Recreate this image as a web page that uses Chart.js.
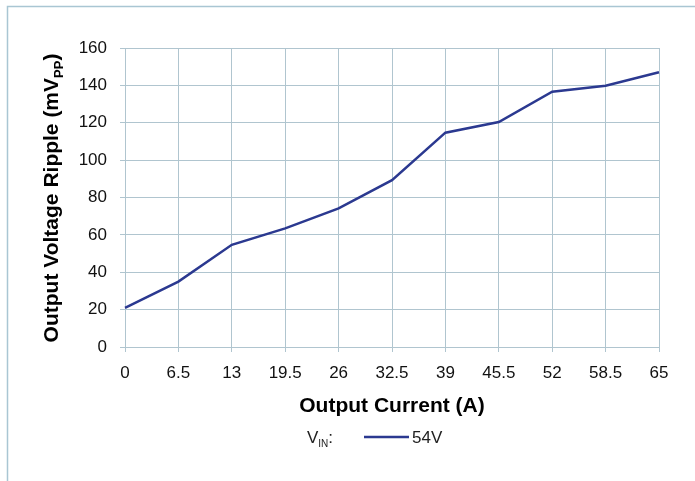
<!DOCTYPE html>
<html>
<head>
<meta charset="utf-8">
<script src="https://cdn.jsdelivr.net/npm/chart.js@4.4.1/dist/chart.umd.min.js"></script>
<style>
    html, body { margin: 0; padding: 0; background: #ffffff; }
    #wrap { width: 695px; height: 481px; position: relative; }
</style>
</head>
<body>
<div id="wrap"><canvas id="rippleChart" width="695" height="481"></canvas></div>
<script>
// output current steps (A) and measured ripple (mVpp) at VIN = 54V
const currentLabels = ['0', '6.5', '13', '19.5', '26', '32.5', '39', '45.5', '52', '58.5', '65'];
const ripple54V = [21, 35, 54.7, 63.5, 74.2, 89.3, 114.7, 120.4, 136.6, 139.8, 147];
const yTicks = [0, 20, 40, 60, 80, 100, 120, 140, 160];

const gridColor = '#b0c5cf';
const lineColor = '#2b3990';
const fontFamily = '"Liberation Sans", Arial, sans-serif';

// draws text followed by a smaller subscript, returns the end x
function textWithSub(ctx, main, sub, tail, x, y, size, bold) {
    const w = bold ? 'bold ' : '';
    ctx.font = w + size + 'px ' + fontFamily;
    ctx.fillText(main, x, y);
    x += ctx.measureText(main).width;
    const subSize = Math.round(size * 0.6);
    ctx.font = w + subSize + 'px ' + fontFamily;
    ctx.fillText(sub, x, y + size * 0.25);
    x += ctx.measureText(sub).width;
    if (tail) {
        ctx.font = w + size + 'px ' + fontFamily;
        ctx.fillText(tail, x, y);
        x += ctx.measureText(tail).width;
    }
    return x;
}

function measureWithSub(ctx, main, sub, tail, size, bold) {
    const w = bold ? 'bold ' : '';
    ctx.font = w + size + 'px ' + fontFamily;
    let total = ctx.measureText(main).width + ctx.measureText(tail).width;
    ctx.font = w + Math.round(size * 0.6) + 'px ' + fontFamily;
    total += ctx.measureText(sub).width;
    return total;
}

const decorations = {
    id: 'decorations',
    afterDraw(chart) {
        const ctx = chart.ctx;
        const area = chart.chartArea;
        ctx.save();

        // outer frame
        ctx.strokeStyle = '#a9c6d3';
        ctx.lineWidth = 1.5;
        ctx.beginPath();
        ctx.moveTo(7.5, 481);
        ctx.lineTo(7.5, 6.5);
        ctx.lineTo(695, 6.5);
        ctx.stroke();

        ctx.fillStyle = '#000000';
        ctx.textBaseline = 'alphabetic';
        ctx.textAlign = 'left';

        // x axis title
        ctx.font = 'bold 21px ' + fontFamily;
        const xt = 'Output Current (A)';
        const xw = ctx.measureText(xt).width;
        ctx.fillText(xt, (area.left + area.right) / 2 - xw / 2, 412);

        // y axis title, rotated
        ctx.save();
        ctx.translate(58, 198);
        ctx.rotate(-Math.PI / 2);
        const yw = measureWithSub(ctx, 'Output Voltage Ripple (mV', 'PP', ')', 21, true);
        textWithSub(ctx, 'Output Voltage Ripple (mV', 'PP', ')', -yw / 2, 0, 21, true);
        ctx.restore();

        // legend
        ctx.fillStyle = '#222222';
        textWithSub(ctx, 'V', 'IN', ':', 307, 443, 17, false);
        ctx.strokeStyle = lineColor;
        ctx.lineWidth = 2.5;
        ctx.beginPath();
        ctx.moveTo(364, 437);
        ctx.lineTo(409, 437);
        ctx.stroke();
        ctx.font = '17px ' + fontFamily;
        ctx.fillText('54V', 412, 443);

        ctx.restore();
    }
};

new Chart(document.getElementById('rippleChart').getContext('2d'), {
    type: 'line',
    data: {
        labels: currentLabels,
        datasets: [{
            label: '54V',
            data: ripple54V,
            borderColor: lineColor,
            borderWidth: 2.5,
            pointRadius: 0,
            tension: 0,
            fill: false
        }]
    },
    options: {
        responsive: false,
        animation: false,
        layout: {
            padding: { left: 0, top: 48, right: 36, bottom: 0 }
        },
        plugins: {
            legend: { display: false },
            tooltip: { enabled: false }
        },
        scales: {
            x: {
                type: 'category',
                offset: false,
                grid: { color: gridColor, lineWidth: 1, tickLength: 5 },
                border: { color: gridColor },
                ticks: {
                    color: '#111111',
                    font: { family: fontFamily, size: 17 },
                    padding: 11,
                    maxRotation: 0,
                    autoSkip: false
                },
                afterFit(scale) { scale.height = 134; }
            },
            y: {
                min: 0,
                max: 160,
                grid: { color: gridColor, lineWidth: 1, tickLength: 5 },
                border: { color: gridColor },
                afterBuildTicks(scale) {
                    scale.ticks = yTicks.map(v => ({ value: v }));
                },
                ticks: {
                    color: '#111111',
                    font: { family: fontFamily, size: 17 },
                    padding: 13
                },
                afterFit(scale) { scale.width = 125; }
            }
        }
    },
    plugins: [decorations]
});
</script>
</body>
</html>
